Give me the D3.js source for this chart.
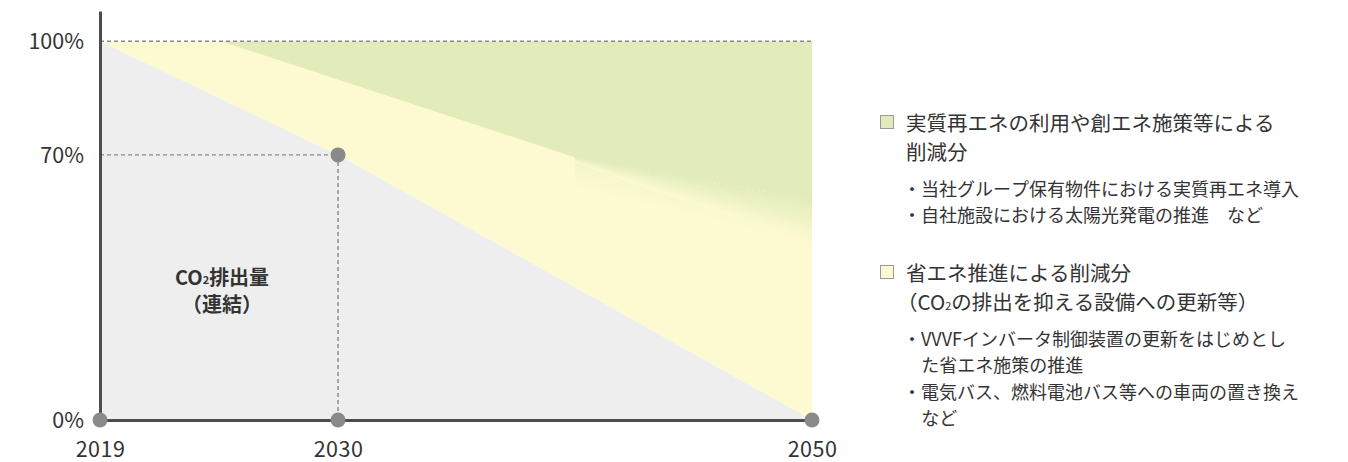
<!DOCTYPE html>
<html><head><meta charset="utf-8">
<script src="https://cdn.jsdelivr.net/npm/d3@7"></script>
<style>
html,body{margin:0;padding:0;background:#fff;}
svg{display:block;font-family:"Noto Sans CJK JP","Noto Sans",sans-serif;}
</style></head>
<body><svg id="chart" width="1348" height="462"></svg>
<script>
// ---- data ----
const years = [2019, 2030, 2050];
const emission = [100, 70, 0];          // CO2 emission path (%)
const yTicks = [0, 70, 100];
const xTicks = [2019, 2030, 2050];
const dotPoints = [[2019, 0], [2030, 0], [2050, 0], [2030, 70]];
// renewable reduction region (green): sharp edge, then fading edge
const greenEdgeYears = [2024.6, 2040, 2050];
const greenEdgeValues = [100, 69.4, 58];
const fadeYears = [2040, 2050];
const fadeMidValues = [67.9, 46.2];     // where the main fade reaches yellow
const tintBottomValues = [61.2, 46.2];  // faint green tint reaches here
const areaLabel = ["CO", "2", "排出量"];
const areaLabel2 = "（連結）";
const legendColors = ["#e2ecba", "#fdfad2"];
const legendTitles = [
  [["実質再エネの利用や創エネ施策等による"], ["削減分"]],
  [["省エネ推進による削減分"], ["（CO", "2", "の排出を抑える設備への更新等）"]]
];
const legendBullets = [
  [["・当社グループ保有物件における実質再エネ導入", 0], ["・自社施設における太陽光発電の推進　など", 0]],
  [["・VVVFインバータ制御装置の更新をはじめとし", 0], ["た省エネ施策の推進", 1],
   ["・電気バス、燃料電池バス等への車両の置き換え", 0], ["など", 1]]
];

// ---- layout ----
const svg = d3.select("#chart");
const plotL = 100, plotR = 812, plotB = 420, plotT = 11;
const x = d3.scaleLinear().domain([2019, 2030, 2050]).range([plotL, plotL + (plotR-plotL)*0.3343, plotR]);
const y = d3.scaleLinear().domain([0, 108]).range([plotB, plotT]);
const GREEN = legendColors[0], YELLOW = legendColors[1], GRAY = "#eeeeee";

const pts = years.map((yr, i) => ({yr, v: emission[i]}));
svg.append("path").datum(pts)
  .attr("d", d3.area().x(d => x(d.yr)).y0(d => y(d.v)).y1(y(100)))
  .attr("fill", YELLOW);
svg.append("path").datum(pts)
  .attr("d", d3.area().x(d => x(d.yr)).y0(y(0)).y1(d => y(d.v)))
  .attr("fill", GRAY);

// green region (solid part)
const gpoly = [[greenEdgeYears[0], 100], [2050, 100]];
for (let i = greenEdgeYears.length - 1; i >= 0; i--) gpoly.push([greenEdgeYears[i], greenEdgeValues[i]]);
svg.append("path").datum(gpoly)
  .attr("d", d3.line().x(d => x(d[0])).y(d => y(d[1])).curve(d3.curveLinearClosed))
  .attr("fill", GREEN);

// green fading bands (grids of cells)
const lerp = (a, b, t) => a + (b - a) * t;
const yrAt = s => lerp(fadeYears[0], fadeYears[1], s);
function bandCells(topV, botV, opacity, N, M) {
  const cells = [];
  const ev = (s, t) => lerp(lerp(topV[0], topV[1], s), lerp(botV[0], botV[1], s), t);
  for (let j = 0; j < M; j++) {
    const s0 = j / M, s1 = (j + 1) / M;
    for (let i = 0; i < N; i++) {
      const t0 = i / N, t1 = (i + 1) / N;
      cells.push({
        p: [[yrAt(s0), ev(s0, t0)], [yrAt(s1), ev(s1, t0)], [yrAt(s1), ev(s1, t1)], [yrAt(s0), ev(s0, t1)]],
        o: opacity((s0 + s1) / 2, (t0 + t1) / 2)
      });
    }
  }
  return cells;
}
const mainTop = [greenEdgeValues[1], greenEdgeValues[2]];
const cellsAll = bandCells(mainTop, fadeMidValues, (s, t) => Math.pow(1 - t, 1.1), 40, 36)
  .concat(bandCells(fadeMidValues, tintBottomValues, (s, t) => 0.28 * (1 - t) * (1 - s), 20, 24));
svg.append("g").attr("shape-rendering", "crispEdges").selectAll("path").data(cellsAll).join("path")
  .attr("d", d => d3.line().x(p => x(p[0])).y(p => y(p[1])).curve(d3.curveLinearClosed)(d.p))
  .attr("fill", GREEN).attr("fill-opacity", d => d.o);

// dashed guides
const dash = svg.append("g").attr("stroke", "#888").attr("stroke-width", 1.4).attr("stroke-dasharray", "4,3").attr("fill", "none");
dash.append("line").attr("x1", x(2019)).attr("x2", x(2050)).attr("y1", y(100)).attr("y2", y(100));
dash.append("line").attr("x1", x(2019)).attr("x2", x(2030)).attr("y1", y(70)).attr("y2", y(70));
dash.append("line").attr("x1", x(2030)).attr("x2", x(2030)).attr("y1", y(70)).attr("y2", y(0));

// axes
const yAxis = svg.append("g").attr("transform", `translate(${plotL},0)`)
  .call(d3.axisLeft(y).tickValues(yTicks).tickFormat(d => d + "%").tickSize(0).tickSizeOuter(0).tickPadding(16));
const xAxis = svg.append("g").attr("transform", `translate(0,${plotB})`)
  .call(d3.axisBottom(x).tickValues(xTicks).tickFormat(d3.format("d")).tickSize(0).tickSizeOuter(0).tickPadding(22));
[yAxis, xAxis].forEach(g => {
  g.select(".domain").attr("stroke", "#4d4d4d").attr("stroke-width", 3);
  g.selectAll("text").attr("fill", "#333").attr("font-size", 21.5)
    .attr("font-family", '"Noto Sans CJK JP","Noto Sans",sans-serif');
});
yAxis.selectAll("text").attr("dy", "0.35em");
xAxis.selectAll("text").attr("dy", "0.71em").attr("letter-spacing", 0.5);

// dots
svg.append("g").selectAll("circle").data(dotPoints).join("circle")
  .attr("cx", d => x(d[0])).attr("cy", d => y(d[1])).attr("r", 7.5).attr("fill", "#8a8a8a");

// area label
const lab = svg.append("text").attr("x", 222).attr("y", 276).attr("text-anchor", "middle")
  .attr("dominant-baseline", "central").attr("font-size", 20).attr("font-weight", "bold").attr("fill", "#333");
lab.append("tspan").text(areaLabel[0]);
lab.append("tspan").attr("font-size", 11).attr("dy", 3).text(areaLabel[1]);
lab.append("tspan").attr("dy", -3).text(areaLabel[2]);
svg.append("text").attr("x", 222).attr("y", 303).attr("text-anchor", "middle")
  .attr("dominant-baseline", "central").attr("font-size", 20).attr("font-weight", "bold").attr("fill", "#333")
  .text(areaLabel2);

// legend
const legY = [122, 272];
legendTitles.forEach((lines, k) => {
  const g = svg.append("g");
  g.append("rect").attr("x", 880.5).attr("y", legY[k] - 6.5).attr("width", 13).attr("height", 13)
    .attr("fill", legendColors[k]).attr("stroke", "#9a9a9a").attr("stroke-width", 1);
  lines.forEach((parts, j) => {
    const startX = (parts[0].startsWith("（")) ? 897 : 906;
    const t = g.append("text").attr("x", startX).attr("y", legY[k] + j * 28.5)
      .attr("dominant-baseline", "central").attr("font-size", 20.5).attr("fill", "#333");
    if (parts.length === 1) t.text(parts[0]);
    else {
      t.append("tspan").text(parts[0]);
      t.append("tspan").attr("font-size", 11).attr("dy", 4).text(parts[1]);
      t.append("tspan").attr("dy", -4).text(parts[2]);
    }
  });
  const bStart = legY[k] + 28.5 + 37;
  legendBullets[k].forEach((b, j) => {
    g.append("text").attr("x", 903 + b[1] * 18.3).attr("y", bStart + j * 26.5)
      .attr("dominant-baseline", "central").attr("font-size", 18).attr("fill", "#333")
      .style("font-kerning", "none").text(b[0]);
  });
});
</script></body></html>
